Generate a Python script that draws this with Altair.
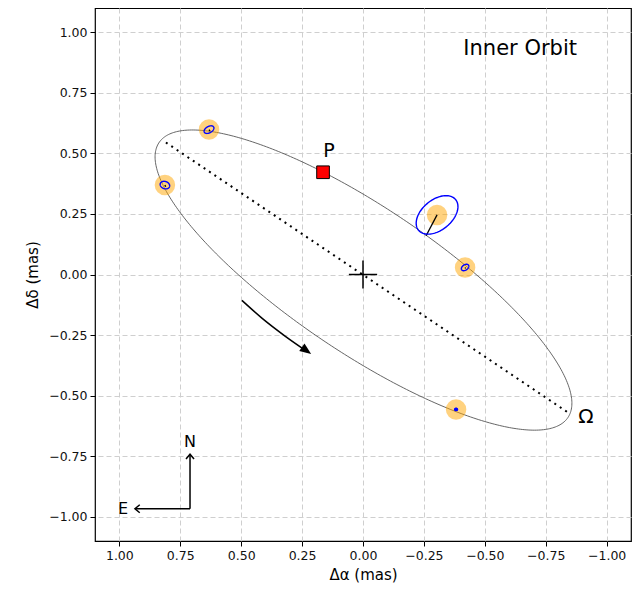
import numpy as np
import pandas as pd
import altair as alt

# ---------------- data ----------------
tick_vals = [1.0, 0.75, 0.5, 0.25, 0.0, -0.25, -0.5, -0.75, -1.0]

# observed relative positions (mas)
obs_ra = [0.632, 0.813, -0.304, -0.419, -0.382]
obs_dec = [0.598, 0.369, 0.246, 0.029, -0.557]
# error ellipses: semi-axes (mas) and on-screen angle (deg, ccw from right)
err_a = [0.022, 0.020, 0.099, 0.017, 0.006]
err_b = [0.013, 0.015, 0.062, 0.011, 0.004]
err_ang = [30, -20, 40, 35, 0]
# model positions on the orbit (residual segments)
model_ra = [0.628, 0.810, -0.259, -0.421, -0.382]
model_dec = [0.592, 0.362, 0.160, 0.025, -0.555]

# projected orbit ellipse (centre, semi-axes, on-screen angle)
orbit_center = (-0.002, -0.023)
orbit_a, orbit_b, orbit_ang = 1.013, 0.299, -34.1

# periastron
peri_ra, peri_dec = [0.164], [0.422]
# line of nodes
node_ra = [0.809, -0.842]
node_dec = [0.545, -0.570]
# direction-of-motion arrow
mot_ra = [0.497, 0.415, 0.320, 0.226]
mot_dec = [-0.107, -0.180, -0.254, -0.320]
mot_tip = (0.213, -0.328)
# compass
comp_ra, comp_dec = 0.710, -0.967
comp_n_dec = -0.742
comp_e_ra = 0.936

# ---------------- helpers ----------------
def ellipse(cx, cy, a, b, ang_deg, n=240):
    t = np.linspace(0, 2 * np.pi, n)
    ph = np.radians(ang_deg)
    ux, uy = -np.cos(ph), np.sin(ph)  # screen angle -> data (x axis reversed)
    vx, vy = -uy, ux
    x = cx + a * np.cos(t) * ux + b * np.sin(t) * vx
    y = cy + a * np.cos(t) * uy + b * np.sin(t) * vy
    return x, y

FONT = "DejaVu Sans"
xs = alt.Scale(domain=[-1.1, 1.1], reverse=True, nice=False, zero=False)
ys = alt.Scale(domain=[-1.1, 1.1], nice=False, zero=False)

X = lambda f="x": alt.X(
    f"{f}:Q", scale=xs,
    axis=alt.Axis(values=tick_vals, format=".2f", title="Δα (mas)"),
)
Y = lambda f="y": alt.Y(
    f"{f}:Q", scale=ys,
    axis=alt.Axis(values=tick_vals, format=".2f", title="Δδ (mas)"),
)

# orbit
ox, oy = ellipse(orbit_center[0], orbit_center[1], orbit_a, orbit_b, orbit_ang, 400)
orbit_df = pd.DataFrame({"x": ox, "y": oy, "i": np.arange(len(ox))})
orbit = alt.Chart(orbit_df).mark_line(color="#555555", strokeWidth=0.9).encode(
    x=X(), y=Y(), order="i:Q"
)

# node line
node_df = pd.DataFrame({"x": node_ra, "y": node_dec, "i": [0, 1]})
nodes = alt.Chart(node_df).mark_line(
    color="black", strokeWidth=2, strokeDash=[2, 4.5]
).encode(x=X(), y=Y(), order="i:Q")

# observations (orange discs)
obs_df = pd.DataFrame({"x": obs_ra, "y": obs_dec})
discs = alt.Chart(obs_df).mark_point(
    filled=True, shape="circle", size=420, color="orange", opacity=0.5
).encode(x=X(), y=Y())

# residual segments
res_rows = []
for k in range(len(obs_ra)):
    res_rows.append({"x": obs_ra[k], "y": obs_dec[k], "id": k, "i": 0})
    res_rows.append({"x": model_ra[k], "y": model_dec[k], "id": k, "i": 1})
res = alt.Chart(pd.DataFrame(res_rows)).mark_line(color="black", strokeWidth=1.3).encode(
    x=X(), y=Y(), detail="id:N", order="i:Q"
)

# error ellipses
rows = []
for k in range(len(obs_ra)):
    ex, ey = ellipse(obs_ra[k], obs_dec[k], err_a[k], err_b[k], err_ang[k], 120)
    for j in range(len(ex)):
        rows.append({"x": ex[j], "y": ey[j], "id": k, "i": j})
errs = alt.Chart(pd.DataFrame(rows)).mark_line(color="blue", strokeWidth=1.4).encode(
    x=X(), y=Y(), detail="id:N", order="i:Q"
)
tiny = alt.Chart(pd.DataFrame({"x": [obs_ra[4]], "y": [obs_dec[4]]})).mark_point(
    filled=True, shape="circle", size=14, color="blue", opacity=1
).encode(x=X(), y=Y())

# periastron
peri_df = pd.DataFrame({"x": peri_ra, "y": peri_dec})
peri = alt.Chart(peri_df).mark_point(
    shape="square", filled=True, size=160, color="red", stroke="black",
    strokeWidth=1, opacity=1
).encode(x=X(), y=Y())

# centre cross
cross_df = pd.DataFrame({"x": [0.058, 0.0], "x2": [-0.058, 0.0],
                         "y": [0.0, 0.058], "y2": [0.0, -0.058]})
cross = alt.Chart(cross_df).mark_rule(color="black", strokeWidth=1.5).encode(
    x=X(), x2="x2:Q", y=Y(), y2="y2:Q"
)

# motion arrow
mot_df = pd.DataFrame({"x": mot_ra, "y": mot_dec, "i": range(len(mot_ra))})
mot = alt.Chart(mot_df).mark_line(color="black", strokeWidth=1.5,
                                  interpolate="monotone").encode(
    x=X(), y=Y(), order="i:Q"
)
mot_head = alt.Chart(pd.DataFrame({"x": [mot_tip[0]], "y": [mot_tip[1]]})).mark_point(
    shape="M 0 0 L -1.9 -0.75 L -1.9 0.75 Z", filled=True, size=144,
    color="black", opacity=1, angle=36
).encode(x=X(), y=Y())

# compass
comp_df = pd.DataFrame({
    "x": [comp_ra, comp_ra], "x2": [comp_ra, comp_e_ra],
    "y": [comp_dec, comp_dec], "y2": [comp_n_dec, comp_dec],
})
comp = alt.Chart(comp_df).mark_rule(color="black", strokeWidth=1.5).encode(
    x=X(), x2="x2:Q", y=Y(), y2="y2:Q"
)
comp_heads = alt.Chart(pd.DataFrame({
    "x": [comp_ra, comp_e_ra], "y": [comp_n_dec, comp_dec], "a": [0, 270]
})).mark_point(
    shape="M -1 1.2 L 0 0 L 1 1.2", filled=False, size=64,
    color="black", strokeWidth=1.5, opacity=1
).encode(x=X(), y=Y(), angle=alt.Angle("a:Q", scale=None))

# texts
txt_df = pd.DataFrame({
    "x": [comp_ra, 0.985, 0.140, -0.915, -0.645],
    "y": [-0.693, -0.967, 0.508, -0.590, 0.930],
    "t": ["N", "E", "P", "Ω", "Inner Orbit"],
    "s": [16, 16, 19, 20, 21],
})
texts = alt.Chart(txt_df).mark_text(font=FONT, color="black",
                                    align="center", baseline="middle").encode(
    x=X(), y=Y(), text="t:N", size=alt.Size("s:Q", scale=None)
)

chart = alt.layer(
    orbit, nodes, discs, res, errs, tiny, peri, cross, mot, mot_head,
    comp, comp_heads, texts
).properties(
    width=536, height=533,
    autosize=alt.AutoSizeParams(type="none"),
    padding={"left": 87, "top": 0, "right": 5, "bottom": 45},
).configure_view(
    stroke="black", strokeWidth=1.2
).configure_axis(
    grid=True, gridColor="#cfcfcf", gridDash=[5, 3], gridWidth=1,
    domain=False, tickColor="black", tickSize=5, tickWidth=1,
    labelFont=FONT, labelFontSize=12.5, labelColor="#111111",
    titleFont=FONT, titleFontSize=15, titleFontWeight="normal", titleColor="black",
    labelPadding=3,
).configure_axisX(titlePadding=6).configure_axisY(titlePadding=8)

chart.save("out.html", embed_options={"renderer": "svg", "actions": False})
